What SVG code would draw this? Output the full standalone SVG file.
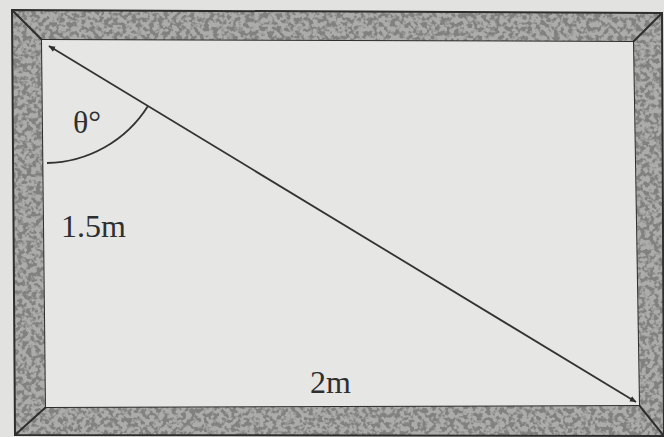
<svg xmlns="http://www.w3.org/2000/svg" width="664" height="437" viewBox="0 0 664 437">
  <style>
    .edge { stroke: #2e2e2e; stroke-width: 2; fill: none; stroke-linejoin: miter; }
    .lbl { font-family: "Liberation Serif", "Times New Roman", serif; font-size: 32px; fill: #2f2f2f; }
    .ln { stroke: #333; stroke-width: 1.8; fill: none; }
  </style>
  <defs>
    <filter id="grain" filterUnits="userSpaceOnUse" x="0" y="0" width="664" height="437">
      <feTurbulence type="fractalNoise" baseFrequency="0.22" numOctaves="2" seed="7" result="noise"/>
      <feColorMatrix in="noise" type="matrix" values="0 0 0 0 0.22  0 0 0 0 0.22  0 0 0 0 0.21  6 0 0 0 -2.6" result="dots"/>
      <feComposite in="dots" in2="SourceGraphic" operator="in" result="clipped"/>
      <feMerge><feMergeNode in="SourceGraphic"/><feMergeNode in="clipped"/></feMerge>
    </filter>
    <marker id="ah" viewBox="0 0 10 10" refX="9" refY="5" markerWidth="7" markerHeight="7" orient="auto-start-reverse" markerUnits="userSpaceOnUse">
      <path d="M0,1 L10,5 L0,9 z" fill="#2e2e2e"/>
    </marker>
  </defs>

  <rect width="664" height="437" fill="#e2e2e0"/>

  <g id="frame">
    <path d="M12,10 L662,13 L664,436 L15,435 Z M42,40 L46,407 L639,405 L633,42 Z" fill="#acacaa" fill-rule="evenodd" filter="url(#grain)"/>
    <path class="edge" d="M12,10 L662,13 L664,436 L15,435 Z"/>
    <path class="edge" d="M42,40 L633,42 L639,405 L46,407 Z"/>
    <path class="edge" d="M12,10 L42,40 M662,13 L633,42 M664,436 L639,405 M15,435 L46,407"/>
  </g>

  <g id="inner">
    <path d="M42,40 L633,42 L639,405 L46,407 Z" fill="#e6e6e4"/>
  </g>

  <g id="connectors">
    <line class="ln" x1="49" y1="46" x2="636" y2="402" marker-start="url(#ah)" marker-end="url(#ah)"/>
    <path class="ln" d="M148,106 A122,122 0 0 1 47,163"/>
  </g>

  <g id="labels">
    <text class="lbl" x="73" y="133">θ°</text>
    <text class="lbl" x="61" y="237">1.5m</text>
    <text class="lbl" x="310" y="393">2m</text>
  </g>
</svg>
